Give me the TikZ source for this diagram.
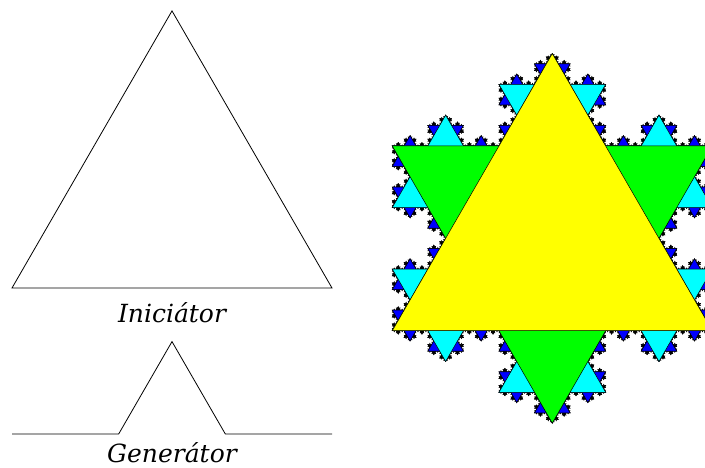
\documentclass[tikz,border=0pt]{standalone}
\usepackage{fontspec}
\setmainfont{DejaVu Serif}
\usetikzlibrary{lindenmayersystems}
\pgfdeclarelindenmayersystem{KochCurve}{\rule{F -> F-F++F-F}}
\definecolor{kyellow}{RGB}{255,255,0}
\definecolor{kgreen}{RGB}{0,255,0}
\definecolor{kcyan}{RGB}{0,255,255}
\definecolor{kblue}{RGB}{0,0,255}
\tikzset{
  outline/.style={draw=black, line width=0.8pt, line join=miter},
  lbl/.style={font=\fontsize{25}{29}\selectfont\itshape, anchor=base, inner sep=0pt},
  flake/.style={draw=black, line width=0.5pt, line join=miter}
}
\begin{document}
\begin{tikzpicture}[x=1pt,y=1pt]
\useasboundingbox (0,0) rectangle (705,467);
% initiator
\coordinate (i1) at (12,179);
\coordinate (i2) at (332,179);
\coordinate (i3) at (172,456.1);
\draw[outline] (i1) -- (i2) -- (i3) -- cycle;
\node[lbl] (ini) at (172,145) {Iniciátor};
% generator
\coordinate (g1) at (12,33);
\coordinate (g2) at (118.67,33);
\coordinate (g3) at (172,125.4);
\coordinate (g4) at (225.33,33);
\coordinate (g5) at (332,33);
\draw[outline] (g1) -- (g2) -- (g3) -- (g4) -- (g5);
\node[lbl] (gen) at (172,5) {Generátor};
% snowflake
\begin{scope}
\clip (0,0) rectangle (705,467);
\begin{scope}[shift={(392.3,136.3)}]
\filldraw[flake, fill=white] [l-system={KochCurve, axiom=F++F++F, order=5, step=1.316872pt, angle=60}] lindenmayer system -- cycle;
\filldraw[flake, fill=black] [l-system={KochCurve, axiom=F++F++F, order=4, step=3.950617pt, angle=60}] lindenmayer system -- cycle;
\filldraw[flake, fill=kblue] [l-system={KochCurve, axiom=F++F++F, order=3, step=11.851852pt, angle=60}] lindenmayer system -- cycle;
\filldraw[flake, fill=kcyan] [l-system={KochCurve, axiom=F++F++F, order=2, step=35.555556pt, angle=60}] lindenmayer system -- cycle;
\filldraw[flake, fill=kgreen] [l-system={KochCurve, axiom=F++F++F, order=1, step=106.666667pt, angle=60}] lindenmayer system -- cycle;
\end{scope}
\coordinate (y1) at (392.3,136.3);
\coordinate (y2) at (712.3,136.3);
\coordinate (y3) at (552.3,413.4);
\filldraw[flake, fill=kyellow] (y1) -- (y2) -- (y3) -- cycle;
\end{scope}
\end{tikzpicture}
\end{document}
